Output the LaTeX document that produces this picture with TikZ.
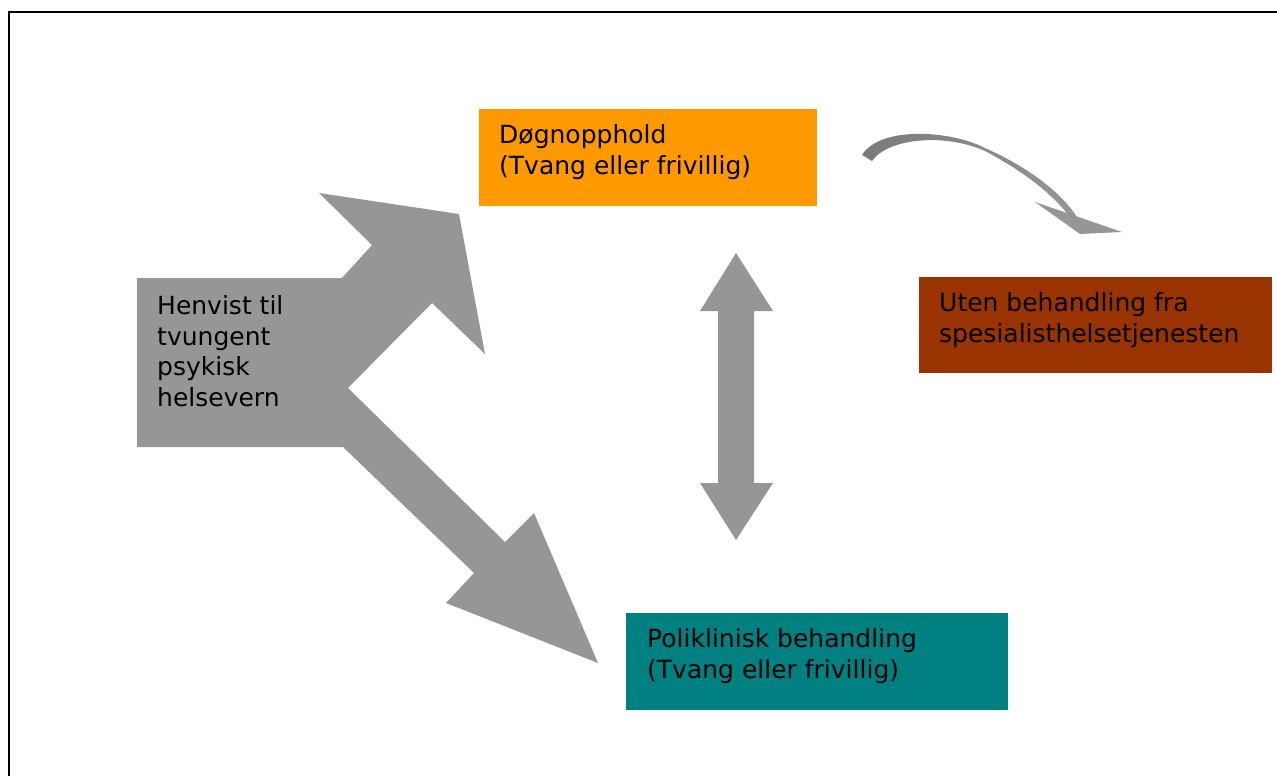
\documentclass[tikz,border=0pt]{standalone}
\usepackage{fontspec}
\setmainfont{DejaVu Sans}
\usepackage{xcolor}
\definecolor{orangebox}{RGB}{255,153,0}
\definecolor{brownbox}{RGB}{153,51,0}
\definecolor{tealbox}{RGB}{0,128,128}
\definecolor{arrowgrey}{RGB}{150,150,150}
\definecolor{taildark}{RGB}{122,122,122}
\definecolor{faded}{RGB}{220,220,220}

\begin{document}
\begin{tikzpicture}[x=1pt, y=-1pt,
    box/.style={rectangle, anchor=north west, inner sep=0pt, outer sep=0pt},
    boxtext/.style={anchor=base west, align=left, inner sep=0pt, font=\fontsize{25}{30.4}\selectfont}]
    \useasboundingbox (0,0) rectangle (1277,776);
    \draw[line width=2pt] (9,776) -- (9,12) -- (1277,12);

    \fill[arrowgrey] (137,278) -- (342,278) -- (372,245) -- (319,193) -- (459,214)
        -- (485,354) -- (432,303) -- (348,388) -- (505,542) -- (534,513)
        -- (598,663) -- (446,603) -- (474,573) -- (343,447) -- (137,447) -- cycle;
    \node[boxtext] (referral) at (157,406) {Henvist til\\tvungent\\psykisk\\helsevern};

    \node[box, fill=orangebox, minimum width=338pt, minimum height=97pt] (stay) at (479,109) {};
    \node[boxtext] (staytext) at (499,174) {Døgnopphold\\(Tvang eller frivillig)};

    \node[box, fill=brownbox, minimum width=353pt, minimum height=96pt] (none) at (919,277) {};
    \node[boxtext] (nonetext) at (939,342) {Uten behandling fra\\spesialisthelsetjenesten};

    \node[box, fill=tealbox, minimum width=382pt, minimum height=97pt] (clinic) at (626,613) {};
    \node[boxtext] (clinictext) at (647,678) {Poliklinisk behandling\\(Tvang eller frivillig)};

    \fill[arrowgrey] (736,253) -- (773,311) -- (754,311) -- (754,483) -- (773,483)
        -- (736,540) -- (700,483) -- (718,483) -- (718,311) -- (700,311) -- cycle;

    \shade[left color=taildark, middle color=faded, right color=arrowgrey]
        (862,155) .. controls (880,126) and (950,130) .. (985,148)
        .. controls (1030,168) and (1065,195) .. (1080,222)
        -- (1073,222) .. controls (1058,198) and (1025,172) .. (985,151)
        .. controls (945,133) and (888,138) .. (872,161) -- cycle;
    \fill[arrowgrey] (1035,202) -- (1122,232) -- (1080,234) -- cycle;
\end{tikzpicture}
\end{document}
